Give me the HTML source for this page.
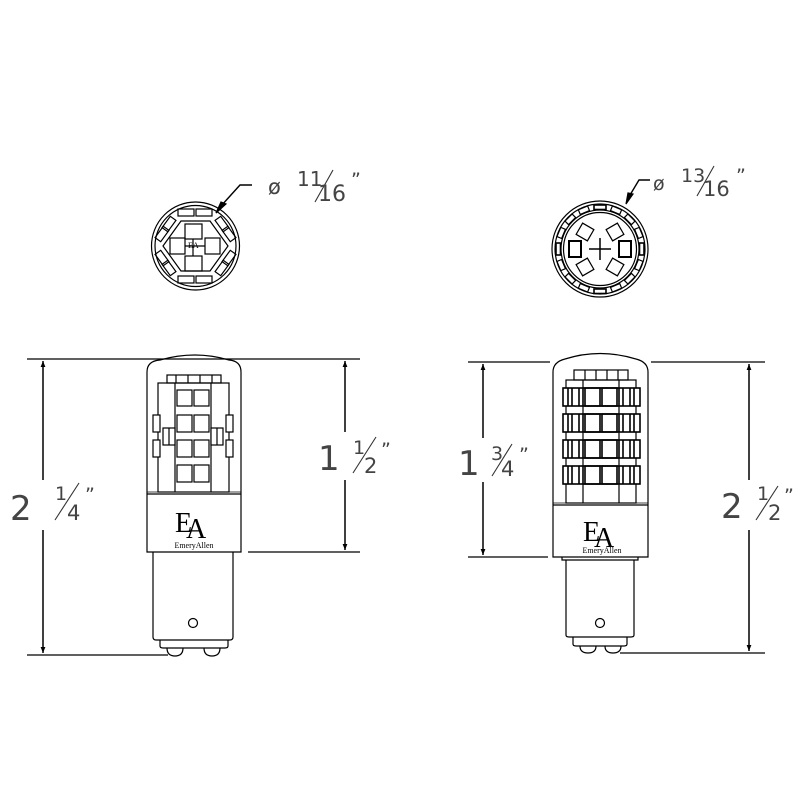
<!DOCTYPE html>
<html><head><meta charset="utf-8"><style>
html,body{margin:0;padding:0;background:#fff}
svg{display:block}
.d{font-family:"DejaVu Sans","Liberation Sans",sans-serif;fill:#444}
.s{font-family:"Liberation Serif",serif;fill:#000}
</style></head><body>
<svg width="800" height="800" viewBox="0 0 800 800" xmlns="http://www.w3.org/2000/svg">
<defs>
<marker id="ah" viewBox="0 0 10 10" refX="10" refY="5" markerWidth="6" markerHeight="14" markerUnits="userSpaceOnUse" orient="auto"><path d="M0,1 L10,5 L0,9 z" fill="#000"/></marker>
</defs>
<g stroke="#000" fill="none" stroke-width="1.2">
<line x1="27" y1="359" x2="360" y2="359"/>
<line x1="27" y1="655" x2="168" y2="655"/>
<line x1="248" y1="552" x2="360" y2="552"/>
<line x1="43" y1="480" x2="43" y2="361" stroke-width="1.5" marker-end="url(#ah)"/>
<line x1="43" y1="530" x2="43" y2="653" stroke-width="1.5" marker-end="url(#ah)"/>
<line x1="345" y1="432" x2="345" y2="361" stroke-width="1.5" marker-end="url(#ah)"/>
<line x1="345" y1="480" x2="345" y2="550" stroke-width="1.5" marker-end="url(#ah)"/>
<path d="M147,552 L147,372 Q147,361 160,360 Q195,350 229,360 Q241,361 241,372 L241,552 Z"/>
<line x1="147" y1="494" x2="241" y2="494"/>
<line x1="147" y1="492" x2="241" y2="492" stroke-width="0.8"/>
<path d="M153,552 L153,637 Q153,640 156,640 L230,640 Q233,640 233,637 L233,552"/>
<path d="M160,640 L160,646 Q160,648 163,648 L225,648 Q228,648 228,646 L228,640"/>
<path d="M167,648 Q167,656 175,656 Q183,656 183,648"/>
<path d="M204,648 Q204,656 212,656 Q220,656 220,648"/>
<circle cx="193" cy="623" r="4.5"/>
<rect x="167" y="375" width="54" height="8"/>
<line x1="176" y1="375" x2="176" y2="383"/><line x1="188" y1="375" x2="188" y2="383"/><line x1="200" y1="375" x2="200" y2="383"/><line x1="212" y1="375" x2="212" y2="383"/>
<rect x="158" y="383" width="71" height="109"/>
<line x1="175" y1="383" x2="175" y2="492"/><line x1="211" y1="383" x2="211" y2="492"/>
<rect x="177" y="390" width="15" height="16"/><rect x="194" y="390" width="15" height="16"/>
<rect x="177" y="415" width="15" height="17"/><rect x="194" y="415" width="15" height="17"/>
<rect x="177" y="440" width="15" height="17"/><rect x="194" y="440" width="15" height="17"/>
<rect x="177" y="465" width="15" height="17"/><rect x="194" y="465" width="15" height="17"/>
<rect x="153" y="415" width="7" height="17" fill="#fff"/><rect x="153" y="440" width="7" height="17" fill="#fff"/>
<rect x="226" y="415" width="7" height="17" fill="#fff"/><rect x="226" y="440" width="7" height="17" fill="#fff"/>
<rect x="163" y="428" width="12" height="17" fill="#fff"/><line x1="169" y1="428" x2="169" y2="445"/>
<rect x="211" y="428" width="12" height="17" fill="#fff"/><line x1="217" y1="428" x2="217" y2="445"/>

<line x1="468" y1="362" x2="550" y2="362"/>
<line x1="651" y1="362" x2="765" y2="362"/>
<line x1="468" y1="557" x2="548" y2="557"/>
<line x1="620" y1="653" x2="765" y2="653"/>
<line x1="483" y1="438" x2="483" y2="364" stroke-width="1.5" marker-end="url(#ah)"/>
<line x1="483" y1="482" x2="483" y2="555" stroke-width="1.5" marker-end="url(#ah)"/>
<line x1="749" y1="480" x2="749" y2="364" stroke-width="1.5" marker-end="url(#ah)"/>
<line x1="749" y1="530" x2="749" y2="651" stroke-width="1.5" marker-end="url(#ah)"/>
<path d="M553,557 L553,372 Q553,362 565,359 Q600,348 636,359 Q648,362 648,372 L648,557 Z"/>
<line x1="553" y1="505" x2="648" y2="505"/>
<line x1="553" y1="503" x2="648" y2="503" stroke-width="0.8"/>
<path d="M562,557 L562,560 L638,560 L638,557"/>
<path d="M566,560 L566,635 Q566,637 569,637 L631,637 Q634,637 634,635 L634,560"/>
<path d="M573,637 L573,644 Q573,646 576,646 L624,646 Q627,646 627,644 L627,637"/>
<path d="M580,646 Q580,653 588,653 Q596,653 596,646"/>
<path d="M605,646 Q605,653 613,653 Q621,653 621,646"/>
<circle cx="600" cy="623" r="4.5"/>
<rect x="574" y="370" width="54" height="10"/>
<line x1="585" y1="370" x2="585" y2="380"/><line x1="596" y1="370" x2="596" y2="380"/><line x1="607" y1="370" x2="607" y2="380"/><line x1="618" y1="370" x2="618" y2="380"/>
<rect x="566" y="380" width="70" height="123"/>
<line x1="583" y1="380" x2="583" y2="503"/><line x1="619" y1="380" x2="619" y2="503"/>
<g stroke-width="1.6">
<rect x="563" y="388" width="77" height="18" fill="#fff"/>
<rect x="563" y="414" width="77" height="18" fill="#fff"/>
<rect x="563" y="440" width="77" height="18" fill="#fff"/>
<rect x="563" y="466" width="77" height="18" fill="#fff"/>
<path d="M568,388 v18 M572,388 v18 M579,388 v18 M583,388 v18 M619,388 v18 M623,388 v18 M630,388 v18 M634,388 v18"/>
<path d="M568,414 v18 M572,414 v18 M579,414 v18 M583,414 v18 M619,414 v18 M623,414 v18 M630,414 v18 M634,414 v18"/>
<path d="M568,440 v18 M572,440 v18 M579,440 v18 M583,440 v18 M619,440 v18 M623,440 v18 M630,440 v18 M634,440 v18"/>
<path d="M568,466 v18 M572,466 v18 M579,466 v18 M583,466 v18 M619,466 v18 M623,466 v18 M630,466 v18 M634,466 v18"/>
<rect x="585" y="388" width="15" height="18"/><rect x="602" y="388" width="15" height="18"/>
<rect x="585" y="414" width="15" height="18"/><rect x="602" y="414" width="15" height="18"/>
<rect x="585" y="440" width="15" height="18"/><rect x="602" y="440" width="15" height="18"/>
<rect x="585" y="466" width="15" height="18"/><rect x="602" y="466" width="15" height="18"/>
</g>

<circle cx="195.5" cy="246" r="44"/>
<circle cx="195.5" cy="246" r="40.5"/>
<polygon points="163,246 181,221 210,221 228,246 210,271 181,271"/>
<rect x="178" y="209" width="16" height="7"/><rect x="196" y="209" width="16" height="7"/>
<rect x="178" y="276" width="16" height="7"/><rect x="196" y="276" width="16" height="7"/>
<rect x="-7" y="-3.5" width="14" height="7" transform="translate(162,234) rotate(-54)"/>
<rect x="-7" y="-3.5" width="14" height="7" transform="translate(169,224) rotate(-54)"/>
<rect x="-7" y="-3.5" width="14" height="7" transform="translate(162,258) rotate(54)"/>
<rect x="-7" y="-3.5" width="14" height="7" transform="translate(169,268) rotate(54)"/>
<rect x="-7" y="-3.5" width="14" height="7" transform="translate(229,234) rotate(54)"/>
<rect x="-7" y="-3.5" width="14" height="7" transform="translate(222,224) rotate(54)"/>
<rect x="-7" y="-3.5" width="14" height="7" transform="translate(229,258) rotate(-54)"/>
<rect x="-7" y="-3.5" width="14" height="7" transform="translate(222,268) rotate(-54)"/>
<rect x="185" y="224" width="17" height="15"/>
<rect x="185" y="256" width="17" height="15"/>
<rect x="170" y="238" width="15" height="16"/>
<rect x="205" y="238" width="15" height="16"/>
<line x1="185" y1="246" x2="205" y2="246"/><line x1="193" y1="239" x2="193" y2="256"/>
<path d="M252,185 L240,185 L221,206" stroke-width="1.4"/>
<path d="M216,213 L226,204 L221,202 Z" fill="#000"/>

<circle cx="600" cy="249" r="48"/>
<circle cx="600" cy="249" r="45"/>
<circle cx="600" cy="249" r="39"/>
<circle cx="600" cy="249" r="36.5"/>
<rect x="594" y="205" width="12" height="4.5" stroke-width="1.6"/>
<rect x="594" y="289" width="12" height="4.5" stroke-width="1.6"/>
<rect x="556" y="243" width="4.5" height="12" stroke-width="1.6"/>
<rect x="639.5" y="243" width="4.5" height="12" stroke-width="1.6"/>
<g>
<rect x="-5" y="-2.5" width="10" height="5" transform="rotate(-22.5 600 249) translate(600,207)"/>
<rect x="-5" y="-2.5" width="10" height="5" transform="rotate(22.5 600 249) translate(600,207)"/>
<rect x="-5" y="-2.5" width="10" height="5" transform="rotate(45 600 249) translate(600,207)"/>
<rect x="-5" y="-2.5" width="10" height="5" transform="rotate(67.5 600 249) translate(600,207)"/>
<rect x="-5" y="-2.5" width="10" height="5" transform="rotate(112.5 600 249) translate(600,207)"/>
<rect x="-5" y="-2.5" width="10" height="5" transform="rotate(135 600 249) translate(600,207)"/>
<rect x="-5" y="-2.5" width="10" height="5" transform="rotate(157.5 600 249) translate(600,207)"/>
<rect x="-5" y="-2.5" width="10" height="5" transform="rotate(-45 600 249) translate(600,207)"/>
<rect x="-5" y="-2.5" width="10" height="5" transform="rotate(-67.5 600 249) translate(600,207)"/>
<rect x="-5" y="-2.5" width="10" height="5" transform="rotate(-112.5 600 249) translate(600,207)"/>
<rect x="-5" y="-2.5" width="10" height="5" transform="rotate(-135 600 249) translate(600,207)"/>
<rect x="-5" y="-2.5" width="10" height="5" transform="rotate(-157.5 600 249) translate(600,207)"/>
</g>
<rect x="569" y="241" width="12" height="16" stroke-width="2"/>
<rect x="619" y="241" width="12" height="16" stroke-width="2"/>
<rect x="-6.5" y="-6.5" width="13" height="13" transform="translate(585,232) rotate(30)"/>
<rect x="-6.5" y="-6.5" width="13" height="13" transform="translate(615,232) rotate(-30)"/>
<rect x="-6.5" y="-6.5" width="13" height="13" transform="translate(585,267) rotate(-30)"/>
<rect x="-6.5" y="-6.5" width="13" height="13" transform="translate(615,267) rotate(30)"/>
<line x1="589" y1="249" x2="611" y2="249" stroke-width="1.5"/><line x1="600" y1="238" x2="600" y2="260" stroke-width="1.5"/>
<path d="M650,180 L639,180 L630,195" stroke-width="1.4"/>
<path d="M626,204 L633,194 L628,193 Z" fill="#000"/>
</g>

<text class="s" x="175" y="532" font-size="28">E</text>
<text class="s" x="186" y="538" font-size="28">A</text>
<text class="s" x="194" y="548" font-size="8" text-anchor="middle">EmeryAllen</text>
<text class="s" x="583" y="541" font-size="28">E</text>
<text class="s" x="594" y="547" font-size="28">A</text>
<text class="s" x="602" y="553" font-size="8" text-anchor="middle">EmeryAllen</text>
<text class="s" x="188" y="248" font-size="8">EA</text>

<g class="d">
<text x="10" y="520" font-size="34">2</text>
<text x="55" y="500" font-size="19">1</text>
<line x1="55" y1="520" x2="79" y2="483" stroke="#333" stroke-width="1.1"/>
<text x="67" y="520" font-size="21">4</text>
<text x="85" y="501" font-size="19">”</text>

<text x="318" y="470" font-size="34">1</text>
<text x="353" y="454" font-size="19">1</text>
<line x1="353" y1="473" x2="376" y2="437" stroke="#333" stroke-width="1.1"/>
<text x="364" y="473" font-size="21">2</text>
<text x="381" y="456" font-size="19">”</text>

<text x="458" y="475" font-size="34">1</text>
<text x="491" y="460" font-size="19">3</text>
<line x1="492" y1="476" x2="512" y2="444" stroke="#333" stroke-width="1.1"/>
<text x="501" y="476" font-size="21">4</text>
<text x="519" y="461" font-size="19">”</text>

<text x="721" y="518" font-size="34">2</text>
<text x="757" y="500" font-size="19">1</text>
<line x1="756" y1="520" x2="778" y2="486" stroke="#333" stroke-width="1.1"/>
<text x="768" y="520" font-size="21">2</text>
<text x="784" y="502" font-size="19">”</text>

<text x="268" y="194" font-size="21">ø</text>
<text x="297" y="186" font-size="20">11</text>
<line x1="315" y1="202" x2="333" y2="170" stroke="#333" stroke-width="1.1"/>
<text x="318" y="201" font-size="22">16</text>
<text x="351" y="186" font-size="19">”</text>

<text x="653" y="190" font-size="19">ø</text>
<text x="681" y="182" font-size="19">13</text>
<line x1="697" y1="196" x2="714" y2="166" stroke="#333" stroke-width="1.1"/>
<text x="703" y="196" font-size="21">16</text>
<text x="736" y="182" font-size="19">”</text>
</g>
</svg>
</body></html>
